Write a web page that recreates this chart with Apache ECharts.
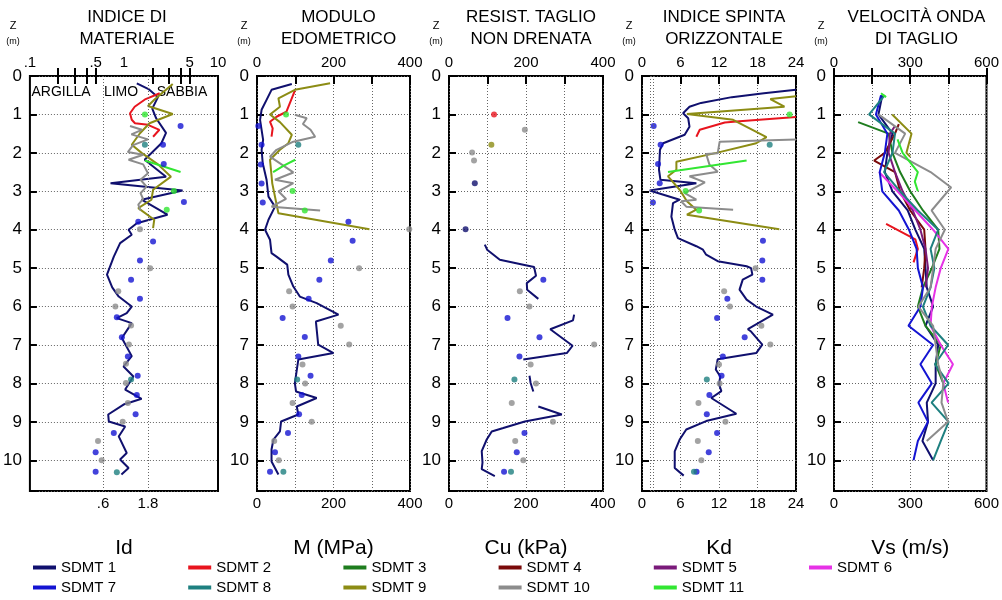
<!DOCTYPE html>
<html><head><meta charset="utf-8">
<script src="https://cdn.jsdelivr.net/npm/echarts@6/dist/echarts.min.js"></script>
<style>html,body{margin:0;padding:0;background:#fff}#c{width:1002px;height:600px}</style>
</head><body><div id="c"></div><script>
const FONT = "'Liberation Sans',Arial,sans-serif";
const NAMES = ['SDMT 1','SDMT 2','SDMT 3','SDMT 4','SDMT 5','SDMT 6','SDMT 7','SDMT 8','SDMT 9','SDMT 10','SDMT 11'];
const COLORS = ['#10106e','#e8141e','#1e7d1e','#7a0a0a','#7a1a7a','#e632e6','#1414d2','#1e8080','#8c8c14','#8c8c8c','#32e632'];
const TITLES = ['INDICE DI\nMATERIALE','MODULO\nEDOMETRICO','RESIST. TAGLIO\nNON DRENATA','INDICE SPINTA\nORIZZONTALE','VELOCITÀ ONDA\nDI TAGLIO'];
const AXIS_NAMES = ['Id','M (MPa)','Cu (kPa)','Kd','Vs (m/s)'];
const SOIL_LABELS = ['ARGILLA','LIMO','SABBIA'];
const ID_TOP_LABELS = [0.1,0.5,1,5,10];
const ID_BOTTOM_LABELS = [0.6,1.8];
const ID_MINOR_TICKS = [0.2,0.3,0.4,0.5,2,3,4,5];
const ID_GRID = [0.6,1.8];
const KD_GRID = [1.3,1.7];

// ---- data: [depth (m), value] ; null = gap ----
// Panel 1: Id
const ID_1 = [[0.19,1.37],[0.35,1.85],[0.55,2.3],[0.85,2.0],[1.1,2.2],[1.48,2.8],[1.75,2.5],[2.18,1.66],[2.62,2.8],[2.79,0.72],[2.98,4.2],[3.22,1.54],[3.61,2.9],[3.83,1.37],[4.0,1.12],[4.13,1.21],[4.35,0.91],[4.7,0.78],[5.17,0.66],[5.5,0.75],[5.74,0.88],[6.0,1.21],[6.17,1.07],[6.3,0.84],[6.43,1.21],[6.82,0.95],[7.29,1.21],[7.56,0.99],[7.82,1.26],[8.16,1.03],[8.4,1.54],[8.55,0.99],[8.81,0.68],[8.99,0.69],[9.12,1.03],[9.38,0.88],[9.81,1.07],[9.98,0.91],[10.2,1.12],[10.37,0.94]];
const ID_2 = [[0.45,2.4],[0.6,1.7],[0.8,1.3],[0.97,1.16],[1.14,1.21],[1.23,1.31],[1.27,1.8],[1.4,2.38],[1.58,2.04]];
const ID_9 = [[0.21,3.3],[0.62,2.1],[0.78,1.8],[0.99,3.3],[1.23,1.87],[1.49,1.48],[1.79,1.21],[2.0,1.54],[2.3,2.3],[2.62,3.16],[2.96,2.04],[3.22,1.96],[3.44,1.42],[3.74,2.1],[3.96,2.04]];
const ID_10 = [[1.3,1.16],[1.4,1.55],[1.52,1.2],[1.65,1.8],[1.8,1.25],[1.98,1.1],[2.05,1.6],[2.18,1.12],[2.3,1.6],[2.53,1.8],[2.7,1.5],[2.88,1.74],[3.05,1.5],[3.2,1.6],[3.35,1.42],[3.5,1.5]];
const ID_11 = [[2.2,1.67],[2.5,4.0]];
const ID_7_PTS = [[1.3,4.0],[1.79,2.6],[2.29,2.65],[3.28,4.34],[3.79,1.42],[4.31,2.04],[4.8,1.48],[5.3,1.19],[5.8,1.48],[6.28,0.84],[6.8,0.95],[7.3,1.1],[7.8,1.4],[8.3,1.37],[8.8,1.33],[9.29,0.78],[9.79,0.5],[10.3,0.5]];
const ID_10_PTS = [[3.99,1.48],[5.0,1.9],[5.6,0.87],[6.0,0.81],[6.49,1.19],[6.99,1.13],[7.49,1.05],[7.99,1.05],[8.51,1.1],[9.0,0.97],[9.5,0.53],[10.0,0.58]];
const ID_8_PTS = [[1.79,1.67],[7.9,1.19],[10.31,0.84]];
const ID_11_PTS = [[1.0,1.67],[2.99,3.4],[3.48,2.85]];

// Panel 2: M (MPa)
const M_1 = [[0.21,91],[0.36,38],[0.62,25],[0.88,12],[1.14,8],[1.4,12],[1.66,16],[1.92,12],[2.27,15],[2.7,25],[3.14,30],[3.4,47],[3.74,30],[4.0,21],[4.26,34],[4.61,38],[4.7,51],[4.91,79],[5.17,82],[5.48,95],[5.74,112],[5.91,156],[6.21,213],[6.39,154],[6.99,160],[7.21,200],[7.38,108],[7.99,99],[8.21,102],[8.38,156],[8.6,104],[8.81,108],[8.99,63],[9.25,60],[9.46,43],[9.72,38],[10.03,38],[10.37,56]];
const M_2 = [[0.38,99],[0.93,77],[1.06,51],[1.19,34],[1.36,41],[1.58,38]];
const M_9 = [[0.19,191],[0.36,99],[0.58,56],[0.8,60],[1.0,34],[1.2,60],[1.53,91],[1.75,82],[1.92,60],[2.18,34],[2.8,40],[3.57,56],[3.99,294]];
const M_10 = [[1.01,99],[1.1,130],[1.25,120],[1.4,140],[1.58,152],[1.71,95],[1.92,51],[2.1,34],[2.51,95],[2.7,47],[2.79,95],[3.0,56],[3.2,76],[3.4,38],[3.5,165]];
const M_11 = [[2.18,100],[2.33,70],[2.5,42]];
const M_7_PTS = [[1.3,3.5],[1.79,12],[2.3,10],[2.8,12],[3.29,15],[3.79,239],[4.29,250],[4.8,193],[5.3,163],[5.8,135],[6.3,67],[6.79,125],[7.3,108],[7.8,140],[8.3,117],[8.8,110],[9.29,81],[9.79,47],[10.3,34]];
const M_10_PTS = [[3.99,398],[5.0,267],[5.6,84],[6.0,93],[6.5,219],[6.99,241],[7.51,119],[8.0,126],[8.51,93],[9.0,143],[9.5,45],[10.0,57]];
const M_8_PTS = [[1.79,108],[7.9,105],[10.3,69]];
const M_11_PTS = [[1.0,76],[2.99,93],[3.5,125]];

// Panel 3: Cu (kPa)
const CU_1 = [[4.39,93],[4.52,99],[4.78,132],[4.91,193],[4.97,221],[5.2,226],[5.39,202],[5.56,203],[5.8,232],null,[6.21,325],[6.36,322],[6.59,263],[7.02,321],[7.21,306],[7.38,193],null,[7.8,209],[7.99,212],[8.21,219],null,[8.6,232],[8.81,293],[8.99,197],[9.16,141],[9.25,111],[9.46,98],[9.76,85],[10.06,87],[10.23,85],[10.41,119]];
const CU_1_PTS = [[2.79,67],[3.99,43]];
const CU_2_PTS = [[1.0,117]];
const CU_9_PTS = [[1.79,110]];
const CU_10_PTS = [[1.4,197],[1.99,60],[2.2,65],[5.6,184],[6.0,209],[6.99,377],[7.51,212],[8.0,226],[8.51,163],[9.0,270],[9.5,172],[10.0,193]];
const CU_7_PTS = [[5.3,245],[6.3,152],[6.8,235],[7.3,183],[9.29,196],[9.79,176],[10.3,143]];
const CU_8_PTS = [[7.9,170],[10.3,161]];

// Panel 4: Kd
const KD_1 = [[0.36,24],[0.45,19],[0.55,14],[0.7,9.2],[0.8,7.4],[0.97,6.4],[1.1,7.2],[1.32,7.4],[1.53,6.65],[1.75,3.3],[1.92,2.8],[2.44,2.65],[2.7,2.87],[2.79,8.47],[2.98,1.2],[3.22,5.87],[3.31,4.83],[3.66,4.58],[4.0,5.1],[4.22,5.6],[4.43,8.47],[4.52,9.5],[4.65,10.0],[4.82,11.8],[4.95,16.3],[5.0,17.0],[5.17,17.2],[5.3,15.7],[5.56,15.2],[5.82,16.3],[6.0,17.8],[6.21,20.4],[6.59,16.5],[6.65,17.0],[6.99,18.75],[7.21,17.8],[7.37,11.8],[7.64,11.5],[7.82,12.2],[8.02,12.0],[8.2,12.37],[8.38,10.8],[8.79,14.7],[8.98,10.0],[9.2,6.9],[9.46,5.87],[9.77,5.1],[10.2,5.1],[10.4,6.5]];
const KD_2 = [[1.07,24],[1.18,15.2],[1.21,12.9],[1.4,9.0],[1.58,8.47]];
const KD_9 = [[0.53,24],[0.6,20],[0.8,22.2],[0.99,7.0],[1.14,14.2],[1.59,19.4],[1.75,17.8],[2.0,11.6],[2.23,5.36],[2.44,5.36],[2.61,4.05],[2.96,5.87],[3.26,7.0],[3.48,8.47],[3.61,7.0],[3.99,21.4]];
const KD_10 = [[1.65,24],[1.71,12.1],[2.01,11.8],[2.03,10.0],[2.3,10.5],[2.49,11.8],[2.61,7.4],[2.77,9.8],[3.05,6.65],[3.22,8.47],[3.26,6.1],[3.4,6.9],[3.48,14.2]];
const KD_11 = [[2.2,16.3],[2.5,4.05]];
const KD_7_PTS = [[1.3,1.82],[1.79,2.9],[2.29,2.5],[2.79,2.76],[3.29,1.7],[4.29,18.85],[4.8,18.75],[5.3,18.75],[5.8,13.3],[6.3,11.7],[6.8,16.0],[7.3,12.6],[7.8,12.4],[8.3,10.5],[8.8,10.1],[9.29,11.7],[9.79,10.4],[10.3,8.5]];
const KD_10_PTS = [[5.0,17.7],[5.6,12.8],[6.0,13.7],[6.5,18.6],[6.99,20.0],[7.51,12.0],[8.0,12.1],[8.51,8.8],[9.0,13.0],[9.5,8.7],[10.0,9.25]];
const KD_8_PTS = [[1.79,19.9],[7.9,10.1],[10.3,8.1]];
const KD_11_PTS = [[1.0,23.0],[2.99,6.8],[3.5,8.9]];

// Panel 5: Vs (m/s)
const VS_1 = [[0.5,190],[1.0,175],[1.5,230],[2.0,210],[2.5,200],[3.0,230],[3.5,290],[4.0,320],[4.5,355],[5.0,360],[5.5,365],[6.0,390],[6.5,360],[7.0,410],[7.5,400],[8.0,400],[8.5,365],[9.0,370],[9.5,348],[10.0,390]];
const VS_2 = [[3.85,205],[4.25,320],[4.5,330],[4.85,313]];
const VS_3 = [[1.2,95],[1.5,215],[2.0,230],[2.5,260],[3.0,300],[3.5,350],[4.0,410],[4.5,415],[5.0,385],[5.5,350],[6.0,330],[6.5,360],[7.0,420],[7.5,400],[8.0,430]];
const VS_4 = [[1.25,255],[1.5,240],[2.0,200],[2.2,158],[2.5,240],[3.0,260],[3.5,300],[4.0,355],[4.5,360],[5.0,355],[5.5,345]];
const VS_5 = [[1.3,240],[1.5,220],[2.0,215],[2.5,240],[3.0,270],[3.5,310],[4.0,340],[4.5,360],[5.0,370],[5.5,360]];
const VS_6 = [[2.5,177],[3.0,250],[3.5,320],[4.0,390],[4.5,450],[5.0,420],[5.5,400],[6.0,385],[6.5,380],[7.0,420],[7.5,468],[8.0,430],[8.5,449]];
const VS_7 = [[0.5,185],[1.0,165],[1.5,210],[2.0,200],[2.5,180],[3.0,190],[3.5,255],[4.0,295],[4.5,325],[5.0,330],[5.5,350],[6.0,340],[6.5,293],[7.0,390],[7.5,340],[8.0,385],[8.5,332],[9.0,370],[9.5,330],[10.0,313]];
const VS_8 = [[0.5,200],[1.0,138],[1.5,240],[2.0,230],[2.5,197],[3.0,260],[3.5,330],[4.0,410],[4.5,380],[5.0,395],[5.5,380],[6.0,350],[6.5,380],[7.0,449],[7.5,397],[8.0,451],[8.5,384],[9.0,451],[9.5,420],[10.0,390]];
const VS_9 = [[1.0,229],[1.5,305],[2.0,285],[2.1,300]];
const VS_10 = [[1.0,175],[1.5,280],[2.0,240],[2.5,380],[2.9,461],[3.5,384],[4.0,436],[4.5,400],[5.0,390],[5.5,380],[6.0,332],[6.5,390],[7.0,400],[7.5,410],[8.0,430],[8.5,423],[9.0,449],[9.5,365]];
const VS_11 = [[0.45,185],[0.55,205],null,[1.65,250],[2.0,270],[2.5,330],[2.75,318],[3.0,330]];

// ---- layout ----
const GRIDS = [{left:26,width:192},{left:257,width:153},{left:449,width:154},{left:642,width:154},{left:834,width:155}];
const PLOT_TOP = 76, PLOT_H = 415;

const panelLines = [
  {0:ID_1,1:ID_2,8:ID_9,9:ID_10,10:ID_11},
  {0:M_1,1:M_2,8:M_9,9:M_10,10:M_11},
  {0:CU_1},
  {0:KD_1,1:KD_2,8:KD_9,9:KD_10,10:KD_11},
  {0:VS_1,1:VS_2,2:VS_3,3:VS_4,4:VS_5,5:VS_6,6:VS_7,7:VS_8,8:VS_9,9:VS_10,10:VS_11}
];
const panelPts = [
  {6:ID_7_PTS,9:ID_10_PTS,7:ID_8_PTS,10:ID_11_PTS},
  {6:M_7_PTS,9:M_10_PTS,7:M_8_PTS,10:M_11_PTS},
  {0:CU_1_PTS,1:CU_2_PTS,8:CU_9_PTS,9:CU_10_PTS,6:CU_7_PTS,7:CU_8_PTS},
  {6:KD_7_PTS,9:KD_10_PTS,7:KD_8_PTS,10:KD_11_PTS},
  {}
];

const toXY = arr => arr.map(p => p ? [p[1], p[0]] : ['-','-']);

const grid = GRIDS.map(g => ({left:g.left, width:g.width, top:PLOT_TOP, height:PLOT_H, show:true, borderColor:'#000', borderWidth:2, backgroundColor:'transparent'}));

const dotted = {type:[1,2], color:'#666', width:1};
const lblStyle = {color:'#000', fontSize:15, fontFamily:FONT};

const yAxis = GRIDS.map((g,i) => ({
  type:'value', gridIndex:i, inverse:true, min:0, max:10.8, interval:1,
  axisLine:{show:false},
  axisTick:{show:true, inside:true, length:7, lineStyle:{color:'#000', width:2}},
  axisLabel:{...lblStyle, fontSize:17, margin:8, formatter: v => Number.isInteger(v) ? String(v) : ''},
  splitLine:{show:true, lineStyle:dotted}
}));

const linAxes = [
  null,
  {max:400, interval:100, lab: v => v % 200 === 0 ? String(v) : ''},
  {max:400, interval:100, lab: v => v % 200 === 0 ? String(v) : ''},
  {max:24, interval:6, lab: v => String(v)},
  {max:600, interval:150, lab: v => v % 300 === 0 ? String(v) : ''}
];

const idFmt = v => { const s = String(+v.toFixed(2)); return s.startsWith('0.') ? s.slice(1) : s; };
const nameStyle = {color:'#000', fontSize:21, fontFamily:FONT};

const xAxis = [];
GRIDS.forEach((g,i) => {
  if (i === 0) {
    xAxis.push({type:'log', logBase:10, gridIndex:0, position:'bottom', min:0.1, max:10,
      name:AXIS_NAMES[0], nameLocation:'middle', nameGap:47, nameTextStyle:nameStyle,
      axisLine:{show:false},
      axisTick:{show:true, inside:true, length:8, customValues:ID_MINOR_TICKS, lineStyle:{color:'#000', width:2}},
      axisLabel:{...lblStyle, margin:5, customValues:ID_BOTTOM_LABELS, formatter:idFmt},
      splitLine:{show:false}});
    xAxis.push({type:'log', logBase:10, gridIndex:0, position:'top', min:0.1, max:10,
      axisLine:{show:false},
      axisTick:{show:true, inside:true, length:8, customValues:ID_MINOR_TICKS, lineStyle:{color:'#000', width:2}},
      axisLabel:{...lblStyle, margin:6, customValues:ID_TOP_LABELS, formatter:idFmt},
      splitLine:{show:false}});
  } else {
    const a = linAxes[i];
    xAxis.push({type:'value', gridIndex:i, position:'bottom', min:0, max:a.max, interval:a.interval,
      name:AXIS_NAMES[i], nameLocation:'middle', nameGap:47, nameTextStyle:nameStyle,
      axisLine:{show:false},
      axisTick:{show:i===4, inside:true, length:8, lineStyle:{color:'#000', width:2}},
      axisLabel:{...lblStyle, margin:5, formatter:a.lab},
      splitLine:{show:true, lineStyle:dotted}});
    xAxis.push({type:'value', gridIndex:i, position:'top', min:0, max:a.max, interval:a.interval,
      axisLine:{show:false},
      axisTick:{show:true, inside:true, length:8, lineStyle:{color:'#000', width:2}},
      axisLabel:{...lblStyle, margin:6, formatter:a.lab},
      splitLine:{show:false}});
  }
});

const series = [];
// vertical reference grid lines (panel 1 and 4)
[[0, ID_GRID],[3, KD_GRID]].forEach(([p, vals]) => {
  series.push({type:'line', xAxisIndex:2*p, yAxisIndex:p, data:[], silent:true, z:1,
    markLine:{silent:true, symbol:['none','none'], label:{show:false}, lineStyle:{...dotted}, data: vals.map(v => ({xAxis:v}))}});
});
panelLines.forEach((obj,p) => {
  Object.keys(obj).forEach(k => {
    const i = +k;
    series.push({type:'line', name:NAMES[i], xAxisIndex:2*p, yAxisIndex:p, data:toXY(obj[k]),
      showSymbol:false, symbol:'none', connectNulls:false, z:3,
      lineStyle:{width:2, color:COLORS[i]}, itemStyle:{color:COLORS[i]}});
  });
});
panelPts.forEach((obj,p) => {
  Object.keys(obj).forEach(k => {
    const i = +k;
    series.push({type:'scatter', name:NAMES[i], xAxisIndex:2*p, yAxisIndex:p, data:toXY(obj[k]),
      symbolSize:6, z:4, itemStyle:{color:COLORS[i]}});
  });
});

const title = GRIDS.map((g,i) => ({text:TITLES[i], left:g.left + g.width/2, top:1, textAlign:'center',
  textStyle:{color:'#000', fontSize:17, fontWeight:'normal', fontFamily:FONT, lineHeight:22}}));

const graphic = [];
GRIDS.forEach(g => {
  graphic.push({type:'text', x:g.left-13, y:26, style:{text:'Z', fontSize:11, fontFamily:FONT, fill:'#000', align:'center', verticalAlign:'middle'}});
  graphic.push({type:'text', x:g.left-13, y:42, style:{text:'(m)', fontSize:9, fontFamily:FONT, fill:'#000', align:'center', verticalAlign:'middle'}});
});
const soilX = [61,121,182];
SOIL_LABELS.forEach((t,i) => graphic.push({type:'text', x:soilX[i], y:92, style:{text:t, fontSize:14, fontFamily:FONT, fill:'#000', align:'center', verticalAlign:'middle'}}));

const legend = NAMES.map((n,i) => ({
  data:[n], left:33 + (i % 6) * 155.2, top: i < 6 ? 560 : 580, padding:0,
  itemGap:0, itemWidth:23, itemHeight:4, icon:'rect',
  textStyle:{color:'#000', fontSize:15, fontFamily:FONT}
}));

const chart = echarts.init(document.getElementById('c'), null, {renderer:'canvas'});
chart.setOption({animation:false, backgroundColor:'#fff', title, grid, xAxis, yAxis, series, legend, graphic});
</script></body></html>
